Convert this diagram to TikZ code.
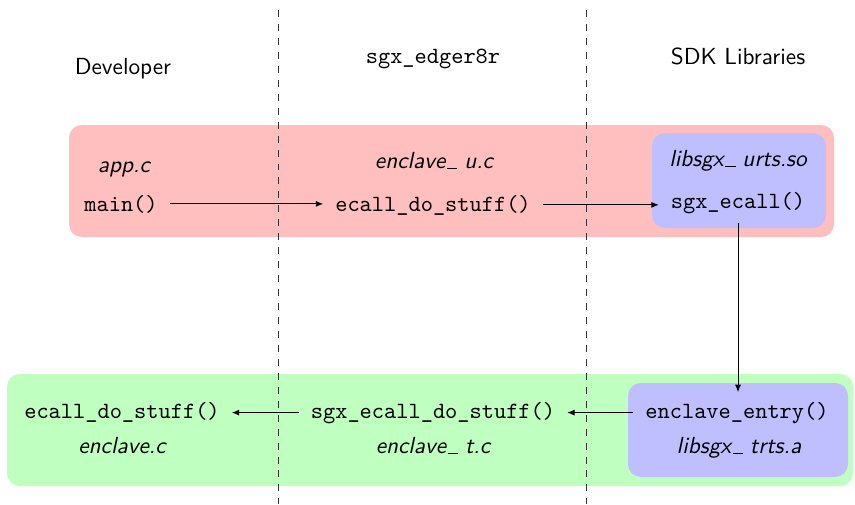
\documentclass[tikz,border=0pt]{standalone}
\usetikzlibrary{arrows.meta}
\definecolor{redbox}{HTML}{FFBFBF}
\definecolor{greenbox}{HTML}{BFFFBF}
\definecolor{bluebox}{HTML}{BFBFFF}
\newcommand{\usc}{\kern0.06em\rule[-0.12ex]{0.45em}{0.45pt}\kern0.3em}
\begin{document}
\begin{tikzpicture}[x=0.43pt,y=-0.43pt,
  code/.style={font=\ttfamily, inner xsep=5pt, inner ysep=4pt, anchor=base},
  file/.style={font=\sffamily\itshape, inner sep=0pt, anchor=base},
  head/.style={font=\sffamily, inner sep=0pt, anchor=base},
  ttinhead/.style={font=\ttfamily, inner sep=0pt, anchor=base},
  arr/.style={-{Latex[length=3.2pt,width=2.6pt]}, line width=0.4pt},
  sep/.style={dashed, line width=0.4pt, black!80},
  box/.style={rounded corners=5.5pt}
]
\useasboundingbox (0,0) rectangle (855,504);
% background boxes
\fill[redbox, box] (69,125) rectangle (834,237);
\fill[bluebox, box] (652,133) rectangle (826,228);
\fill[greenbox, box] (7,374) rectangle (853,486);
\fill[bluebox, box] (628,383) rectangle (848,477);
% separators
\coordinate (s1t) at (278,10);
\coordinate (s1b) at (278,504);
\coordinate (s2t) at (586,10);
\coordinate (s2b) at (586,504);
\draw[sep] (s1t) -- (s1b);
\draw[sep] (s2t) -- (s2b);
% headers
\node[head] (hdev) at (123,74) {Developer};
\node[ttinhead] (hedg) at (433,63) {sgx\_edger8r};
\node[head] (hsdk) at (738,64) {SDK Libraries};
% top row
\node[file] (appc) at (124,172) {app.c};
\node[file] (encu) at (434,168) {enclave\usc u.c};
\node[file] (urts) at (738,166) {libsgx\usc urts.so};
\node[code] (main) at (121,211) {main()};
\node[code] (ecallu) at (433,211) {ecall\_do\_stuff()};
\node[code] (sgxecall) at (738,208) {sgx\_ecall()};
% bottom row
\node[code] (entry) at (737,418) {enclave\_entry()};
\node[code] (sgxdo) at (433,418) {sgx\_ecall\_do\_stuff()};
\node[code] (ecallt) at (122,418) {ecall\_do\_stuff()};
\node[file] (trts) at (739,453) {libsgx\usc trts.a};
\node[file] (enct) at (433,453) {enclave\usc t.c};
\node[file] (encc) at (122,453) {enclave.c};
% connectors
\draw[arr] (main.east) -- (main.east -| ecallu.west);
\draw[arr] (ecallu.east) -- (ecallu.east -| sgxecall.west);
\draw[arr] (sgxecall.south) -- (sgxecall.south |- entry.north);
\draw[arr] (entry.west) -- (entry.west -| sgxdo.east);
\draw[arr] (sgxdo.west) -- (sgxdo.west -| ecallt.east);
\end{tikzpicture}
\end{document}
